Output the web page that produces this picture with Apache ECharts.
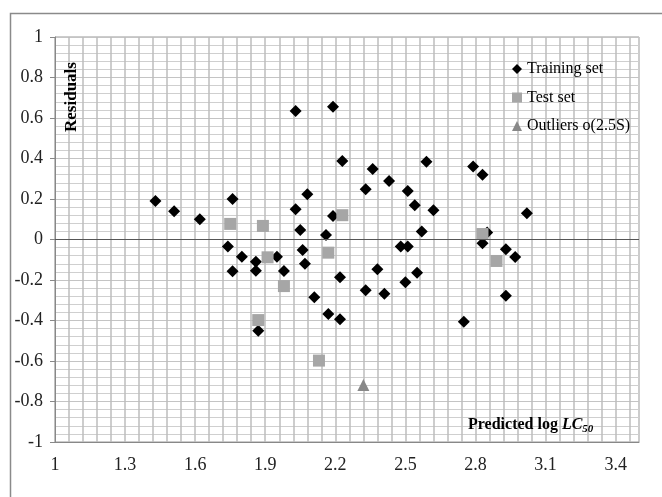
<!DOCTYPE html>
<html>
<head>
<meta charset="utf-8">
<script src="https://cdn.jsdelivr.net/npm/echarts@6/dist/echarts.min.js"></script>
<style>
  html, body { margin: 0; padding: 0; background: #fff; }
  #main { width: 662px; height: 497px; }
</style>
</head>
<body>
<div id="main"></div>
<script>
// values
const trainX = [1.43, 1.51, 1.62, 1.76, 1.74, 1.76, 1.80, 1.86, 1.86, 1.87, 1.95, 1.98, 2.03, 2.03, 2.05, 2.06, 2.07, 2.08, 2.11, 2.17,
  2.16, 2.19, 2.19, 2.22, 2.23, 2.22, 2.33, 2.33, 2.36, 2.38, 2.41, 2.43, 2.48, 2.51, 2.51, 2.50, 2.54, 2.55, 2.57, 2.59,
  2.62, 2.75, 2.79, 2.83, 2.85, 2.83, 2.93, 2.93, 2.97, 3.02];
const trainY = [0.19, 0.14, 0.10, 0.20, -0.035, -0.157, -0.085, -0.11, -0.154, -0.45, -0.085, -0.156, 0.15, 0.634, 0.047, -0.052, -0.12, 0.223, -0.285, -0.368,
  0.022, 0.656, 0.116, -0.187, 0.388, -0.394, -0.251, 0.248, 0.348, -0.147, -0.268, 0.289, -0.035, -0.035, 0.24, -0.211, 0.169, -0.164, 0.04, 0.384,
  0.144, -0.406, 0.36, 0.32, 0.035, -0.019, -0.048, -0.278, -0.087, 0.13];
const testX = [1.75, 1.89, 1.91, 1.98, 1.87, 2.13, 2.17, 2.23, 2.83, 2.89];
const testY = [0.077, 0.067, -0.088, -0.23, -0.398, -0.598, -0.065, 0.12, 0.027, -0.106];
const outlierX = [2.32];
const outlierY = [-0.718];

const xMajorTicks = [1, 1.3, 1.6, 1.9, 2.2, 2.5, 2.8, 3.1, 3.4];

const seriesNames = ['Training set', 'Test set', 'Outliers o(2.5S)'];

function pairs(xs, ys) {
  const out = [];
  for (let i = 0; i < xs.length; i++) {
    out.push([xs[i], ys[i]]);
  }
  return out;
}

const serif = '"Liberation Serif", "Times New Roman", serif';
const myChart = echarts.init(document.getElementById('main'), null, { renderer: 'canvas' });

const option = {
  backgroundColor: '#fff',
  animation: false,
  grid: {
    left: 55, right: 23, top: 37, bottom: 55,
    show: true, borderColor: '#999', borderWidth: 1
  },
  legend: {
    orient: 'vertical',
    left: 512, top: 60,
    padding: 0,
    itemWidth: 10, itemHeight: 10,
    itemGap: 10.5,
    textStyle: { fontFamily: serif, fontSize: 16, color: '#000', lineHeight: 18 },
    data: [
      { name: seriesNames[0], icon: 'diamond' },
      { name: seriesNames[1], icon: 'rect' },
      { name: seriesNames[2], icon: 'triangle' }
    ]
  },
  xAxis: {
    type: 'value',
    min: 1, max: 3.5, interval: 0.02,
    axisLine: { onZero: false, lineStyle: { color: '#888', width: 1 } },
    axisTick: { show: false },
    axisLabel: {
      margin: 14,
      fontFamily: serif, fontSize: 18, color: '#222',
      formatter: function (v) {
        for (let i = 0; i < xMajorTicks.length; i++) {
          if (Math.abs(v - xMajorTicks[i]) < 1e-6) return String(xMajorTicks[i]);
        }
        return '';
      }
    },
    // only every third line (0.06 apart) is visible
    splitLine: {
      show: true,
      lineStyle: { color: ['#bcbcbc', 'rgba(0,0,0,0)', 'rgba(0,0,0,0)'], width: 1.5 }
    }
  },
  yAxis: {
    type: 'value',
    min: -1, max: 1, interval: 0.2,
    axisLine: { show: true, lineStyle: { color: '#888', width: 1 } },
    axisTick: { show: true, length: 5, lineStyle: { color: '#888' } },
    axisLabel: {
      margin: 12,
      fontFamily: serif, fontSize: 18, color: '#222',
      formatter: function (v) { return String(Math.round(v * 10) / 10); }
    },
    splitLine: { show: true, lineStyle: { color: '#c4c4c4', width: 1 } },
    minorTick: { show: false, splitNumber: 5 },
    minorSplitLine: { show: true, lineStyle: { color: '#cfcfcf', width: 1 } }
  },
  series: [
    {
      name: seriesNames[0],
      type: 'scatter',
      symbol: 'diamond',
      symbolSize: 12,
      itemStyle: { color: '#000', opacity: 1 },
      data: pairs(trainX, trainY),
      markLine: {
        silent: true,
        symbol: 'none',
        label: { show: false },
        lineStyle: { color: '#555', width: 1, type: 'solid' },
        data: [{ yAxis: 0 }]
      }
    },
    {
      name: seriesNames[1],
      type: 'scatter',
      symbol: 'rect',
      symbolSize: 12,
      itemStyle: { color: '#a6a6a6', opacity: 1 },
      data: pairs(testX, testY)
    },
    {
      name: seriesNames[2],
      type: 'scatter',
      symbol: 'triangle',
      symbolSize: 12,
      itemStyle: { color: '#888', opacity: 1 },
      data: pairs(outlierX, outlierY)
    }
  ],
  graphic: [
    {
      type: 'rect',
      silent: true,
      shape: { x: 10.5, y: 13.5, width: 700, height: 600 },
      style: { fill: 'none', stroke: '#8a8a8a', lineWidth: 1.5 }
    },
    {
      type: 'text',
      x: 72, y: 97,
      z: 100,
      rotation: Math.PI / 2,
      style: {
        text: 'Residuals',
        fontFamily: serif, fontSize: 17, fontWeight: 'bold', fill: '#000',
        align: 'center', verticalAlign: 'middle'
      }
    },
    {
      type: 'text',
      x: 468, y: 425,
      z: 100,
      style: {
        text: '{a|Predicted log }{b|LC}{c|50}',
        align: 'left', verticalAlign: 'middle',
        rich: {
          a: { fontFamily: serif, fontSize: 16, fontWeight: 'bold', fill: '#000' },
          b: { fontFamily: serif, fontSize: 16, fontWeight: 'bold', fontStyle: 'italic', fill: '#000' },
          c: { fontFamily: serif, fontSize: 11, fontWeight: 'bold', fontStyle: 'italic', fill: '#000', verticalAlign: 'bottom', padding: [8, 0, 0, 0] }
        }
      }
    }
  ]
};

myChart.setOption(option);
</script>
</body>
</html>
